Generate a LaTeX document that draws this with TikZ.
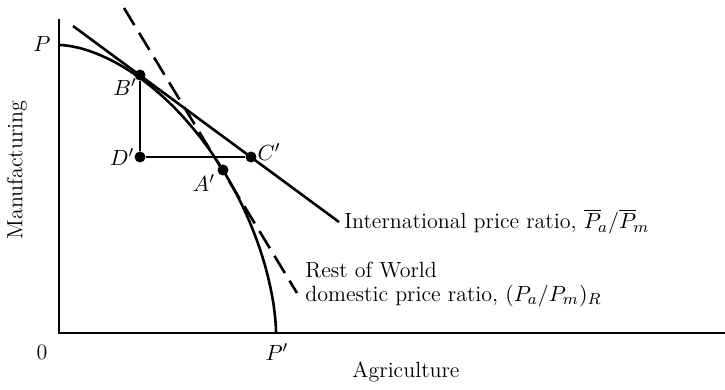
\documentclass[tikz,border=0pt]{standalone}
\usepackage{amsmath}
\begin{document}
\begin{tikzpicture}[x=0.5pt,y=-0.5pt,
  thickline/.style={line width=1.3pt},
  thinline/.style={line width=0.6pt},
  dot/.style={circle,fill=black,inner sep=0pt,minimum size=5.5pt},
  lbl/.style={font=\fontsize{11}{13}\selectfont,inner sep=1pt}]
\useasboundingbox (0,0) rectangle (725,390);
% axes
\coordinate (top) at (59,19);
\coordinate (O) at (59,333);
\coordinate (right) at (725,333);
\draw[thinline] (top) -- (O) -- (right);
% production possibility curve
\draw[thickline] plot[domain=0.05:89.95,samples=160,smooth]
  ({59+217*pow(cos(\x),1.176)},{333-288*pow(sin(\x),1.176)});
% points
\node[dot] (B) at (140,75) {};
\node[dot] (D) at (140,157) {};
\node[dot] (C) at (251,157) {};
\node[dot] (A) at (223,170) {};
\draw[thinline] (B) -- (D) -- (C);
% international price line
\coordinate (i1) at (73,26);
\coordinate (i2) at (339,222);
\draw[thickline] (i1) -- (i2);
% rest of world price line
\coordinate (d1) at (124,8);
\coordinate (d2) at (297,293);
\draw[thickline,dash pattern=on 10pt off 4.5pt] (d1) -- (d2);
% labels
\node[lbl] (lP) at (42,44) {$P$};
\node[lbl] (lB) at (125,87) {$B'$};
\node[lbl] (lD) at (122,157) {$D'$};
\node[lbl] (lC) at (269,152) {$C'$};
\node[lbl] (lA) at (204,183) {$A'$};
\node[lbl] (l0) at (42,352) {0};
\node[lbl] (lPp) at (277,352) {$P'$};
\node[lbl,anchor=west] (lint) at (342,222) {International price ratio, $\overline{P}_{\!a}/\overline{P}_{\!m}$};
\node[lbl,anchor=west] (lrw1) at (303,270) {Rest of World};
\node[lbl,anchor=west] (lrw2) at (303,296) {domestic price ratio, $(P_a/P_m)_R$};
\node[lbl] (lag) at (406,372) {Agriculture};
\node[lbl,rotate=90] (lman) at (17,170) {Manufacturing};
\end{tikzpicture}
\end{document}
